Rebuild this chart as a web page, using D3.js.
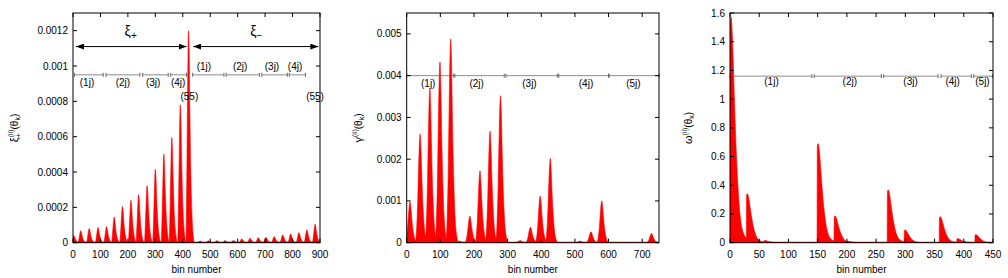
<!DOCTYPE html>
<html>
<head>
<meta charset="utf-8">
<script src="https://cdn.jsdelivr.net/npm/d3@7"></script>
<style>
  body { margin: 0; background: #fff; }
  svg text { font-family: "Liberation Sans", Arial, sans-serif; fill: #000; }
</style>
</head>
<body>
<svg id="chart" width="1008" height="278"></svg>
<script>
// ---- data ----
// xi panel: peak bin / peak height, xi+ then xi-
const xiPlusBins = [3, 28, 59, 91, 122, 150, 180, 211, 239, 270, 300, 331, 360, 391, 421];
const xiPlusPeaks = [0.00004, 0.000068, 0.00008, 0.000086, 0.000091, 0.000146, 0.000205, 0.00024, 0.000272, 0.000323, 0.000416, 0.000501, 0.000595, 0.00078, 0.0012];
const xiMinusBins = [463, 493, 524, 554, 584, 615, 645, 675, 703, 733, 764, 793, 823, 852, 882];
const xiMinusPeaks = [0.0000095, 0.000011, 0.000011, 0.000012, 0.000013, 0.000021, 0.000025, 0.000028, 0.00003, 0.000034, 0.000044, 0.000049, 0.000057, 0.000072, 0.000104];
// peak outline: [bin offset, fraction of peak height]
const xiProfile = [[-9, 0], [-6, 0.35], [-3, 0.75], [-1, 0.97], [0, 1], [2, 0.92], [5, 0.6], [8, 0.35], [12, 0.15], [16, 0.05], [20, 0]];

// gamma panel
const gammaBins = [10, 40, 69, 99, 131, 157, 188, 218, 248, 279, 337, 368, 397, 427, 515, 548, 580, 728];
const gammaPeaks = [0.00098, 0.0026, 0.00369, 0.00433, 0.00488, 0.00004, 0.00064, 0.00172, 0.00267, 0.00352, 0.00005, 0.00037, 0.00112, 0.00202, 0.00004, 0.00026, 0.001, 0.00022];
const gammaProfile = [[-15, 0], [-11, 0.1], [-7, 0.4], [-4, 0.75], [-1, 0.98], [0, 1], [2, 0.9], [5, 0.6], [9, 0.3], [13, 0.12], [18, 0.03], [22, 0]];

// omega panel
const omegaBins = [0, 28, 58, 149, 178, 199, 269, 298, 358, 388, 419];
const omegaPeaks = [1.57, 0.34, 0.015, 0.69, 0.186, 0.01, 0.367, 0.088, 0.181, 0.028, 0.056];
const omegaProfile = [[0, 0], [0.4, 0.98], [2, 1], [4, 0.92], [7, 0.68], [10, 0.45], [13, 0.28], [17, 0.13], [22, 0.05], [30, 0.015], [40, 0]];

// axis ticks
const xiXTicks = [0, 100, 200, 300, 400, 500, 600, 700, 800, 900];
const xiYTicks = [0, 0.0002, 0.0004, 0.0006, 0.0008, 0.001, 0.0012];
const gammaXTicks = [0, 100, 200, 300, 400, 500, 600, 700];
const gammaYTicks = [0, 0.001, 0.002, 0.003, 0.004, 0.005];
const omegaXTicks = [0, 50, 100, 150, 200, 250, 300, 350, 400, 450];
const omegaYTicks = [0, 0.2, 0.4, 0.6, 0.8, 1, 1.2, 1.4, 1.6];

// range annotations: [from bin, to bin], label, label bin
const xiSegments = [[5, 110], [120, 244], [254, 347], [356, 414], [436, 550], [558, 679], [688, 781], [788, 847]];
const xiSegLabels = ["(1j)", "(2j)", "(3j)", "(4j)", "(1j)", "(2j)", "(3j)", "(4j)"];
const xiSegLabelBins = [51, 182, 292, 383, 477, 609, 725, 809];
const xiSegLabelValues = [0.000906, 0.000906, 0.000906, 0.000906, 0.001, 0.001, 0.001, 0.001];
const xiSingleLabels = [[424, 0.000826], [882, 0.000826]];
const xiArrows = [[11, 414], [438, 894]];
const xiArrowNames = ["+", "\u2212"];
const xiArrowNameBins = [188, 646];

const gammaSegments = [[0, 140], [143, 290], [295, 448], [452, 600], [602, 750]];
const gammaSegLabels = ["(1j)", "(2j)", "(3j)", "(4j)", "(5j)"];
const gammaSegLabelBins = [64, 208, 365, 533, 674];

const omegaSegments = [[0, 140], [144, 259], [263, 356], [361, 413], [417, 449]];
const omegaSegLabels = ["(1j)", "(2j)", "(3j)", "(4j)", "(5j)"];
const omegaSegLabelBins = [71, 205, 309, 381, 432];

const svg = d3.select("#chart");
const plotTop = 13, plotBottom = 242.7;

function fmt(d) {
    return d === 0 ? "0" : String(+d.toFixed(4));
}

function drawPanel(p) {
    const x = d3.scaleLinear().domain(p.xDomain).range([p.left, p.right]);
    const y = d3.scaleLinear().domain(p.yDomain).range([plotBottom, plotTop]);
    const g = svg.append("g");

    g.append("clipPath").attr("id", "clip" + p.id)
        .append("rect")
        .attr("x", p.left).attr("y", plotTop)
        .attr("width", p.right - p.left).attr("height", plotBottom - plotTop);

    // grey range lines with end bars
    p.segments.forEach(function(s) {
        const yy = y(p.segValue);
        g.append("line")
            .attr("x1", x(s[0])).attr("x2", x(s[1]))
            .attr("y1", yy).attr("y2", yy)
            .attr("stroke", "#8c8c8c").attr("stroke-width", 1);
        [s[0], s[1]].forEach(function(b) {
            g.append("line")
                .attr("x1", x(b)).attr("x2", x(b))
                .attr("y1", yy - 2).attr("y2", yy + 2)
                .attr("stroke", "#666").attr("stroke-width", 1);
        });
    });
    p.segLabels.forEach(function(t, i) {
        g.append("text")
            .attr("x", x(p.segLabelBins[i]))
            .attr("y", y(p.segLabelValues ? p.segLabelValues[i] : p.labelValue))
            .attr("dy", "0.35em")
            .attr("text-anchor", "middle")
            .style("font-size", "10px")
            .text(t);
    });

    // filled peaks
    const area = d3.area()
        .curve(d3.curveMonotoneX)
        .x(function(d) { return x(d[0]); })
        .y0(y(0))
        .y1(function(d) { return y(d[1]); });

    const fills = g.append("g").attr("clip-path", "url(#clip" + p.id + ")");
    p.bins.forEach(function(b, i) {
        const pts = p.profile.map(function(q) { return [b + q[0], q[1] * p.peaks[i]]; });
        fills.append("path")
            .attr("d", area(pts))
            .attr("fill", "#ff0000")
            .attr("stroke", "#ff0000")
            .attr("stroke-width", 0.6);
    });

    // frame
    g.append("rect")
        .attr("x", p.left).attr("y", plotTop)
        .attr("width", p.right - p.left).attr("height", plotBottom - plotTop)
        .attr("fill", "none").attr("stroke", "#000").attr("stroke-width", 1);

    // baseline of the curve
    fills.append("line")
        .attr("x1", p.left).attr("x2", p.right)
        .attr("y1", y(0)).attr("y2", y(0))
        .attr("stroke", p.baseColor).attr("stroke-width", 2);

    // ticks, mirrored
    p.xTicks.forEach(function(t) {
        g.append("line").attr("x1", x(t)).attr("x2", x(t))
            .attr("y1", plotBottom).attr("y2", plotBottom - 4).attr("stroke", "#000");
        g.append("line").attr("x1", x(t)).attr("x2", x(t))
            .attr("y1", plotTop).attr("y2", plotTop + 4).attr("stroke", "#000");
        g.append("text")
            .attr("x", x(t)).attr("y", plotBottom + 15)
            .attr("text-anchor", "middle")
            .style("font-size", "10px")
            .text(fmt(t));
    });
    p.yTicks.forEach(function(t) {
        g.append("line").attr("x1", p.left).attr("x2", p.left + 4)
            .attr("y1", y(t)).attr("y2", y(t)).attr("stroke", "#000");
        g.append("line").attr("x1", p.right).attr("x2", p.right - 4)
            .attr("y1", y(t)).attr("y2", y(t)).attr("stroke", "#000");
        g.append("text")
            .attr("x", p.left - 5).attr("y", y(t))
            .attr("dy", "0.35em")
            .attr("text-anchor", "end")
            .style("font-size", "10px")
            .text(fmt(t));
    });

    g.append("text")
        .attr("x", (p.left + p.right) / 2).attr("y", 273)
        .attr("text-anchor", "middle")
        .style("font-size", "10px")
        .text("bin number");

    // rotated y label: sym_sub^(ii)(theta_k)
    const lab = g.append("text")
        .attr("transform", `translate(${p.labelX},128) rotate(-90)`)
        .attr("text-anchor", "middle")
        .style("font-size", "10px");
    lab.append("tspan").style("font-size", "11px").text(p.symbol);
    if (p.sub) {
        lab.append("tspan").attr("dy", 3).style("font-size", "7px").text(p.sub);
        lab.append("tspan").attr("dx", -4).attr("dy", -8).style("font-size", "7px").text("(ii)");
        lab.append("tspan").attr("dy", 5).text("(θ");
    } else {
        lab.append("tspan").attr("dy", -5).style("font-size", "7px").text("(ii)");
        lab.append("tspan").attr("dy", 5).text("(θ");
    }
    lab.append("tspan").attr("dy", 2).style("font-size", "7px").text("k");
    lab.append("tspan").attr("dy", -2).text(")");

    return { x: x, y: y, g: g };
}

// panel 1
const p1 = drawPanel({
    id: 1, left: 73, right: 320, xDomain: [0, 900], yDomain: [0, 0.0013],
    bins: xiPlusBins.concat(xiMinusBins), peaks: xiPlusPeaks.concat(xiMinusPeaks), profile: xiProfile,
    xTicks: xiXTicks, yTicks: xiYTicks,
    segments: xiSegments, segValue: 0.00095, segLabels: xiSegLabels,
    segLabelBins: xiSegLabelBins, segLabelValues: xiSegLabelValues,
    baseColor: "#8a0000", symbol: "ξ", sub: "+", labelX: 18
});

xiSingleLabels.forEach(function(d) {
    p1.g.append("text")
        .attr("x", p1.x(d[0])).attr("y", p1.y(d[1]))
        .attr("dy", "0.35em").attr("text-anchor", "middle")
        .style("font-size", "10px").text("(55)");
});

svg.append("defs").append("marker")
    .attr("id", "head").attr("viewBox", "0 0 8 6")
    .attr("refX", 8).attr("refY", 3)
    .attr("markerWidth", 8).attr("markerHeight", 6)
    .attr("markerUnits", "userSpaceOnUse")
    .attr("orient", "auto-start-reverse")
    .append("path").attr("d", "M0,0L8,3L0,6Z").attr("fill", "#000");

xiArrows.forEach(function(a, i) {
    const yy = p1.y(0.00111);
    p1.g.append("line")
        .attr("x1", p1.x(a[0])).attr("x2", p1.x(a[1]))
        .attr("y1", yy).attr("y2", yy)
        .attr("stroke", "#000").attr("stroke-width", 1)
        .attr("marker-start", "url(#head)")
        .attr("marker-end", "url(#head)");
    const t = p1.g.append("text")
        .attr("x", p1.x(xiArrowNameBins[i])).attr("y", p1.y(0.001172))
        .style("font-size", "14px");
    t.append("tspan").text("ξ");
    t.append("tspan").attr("dy", 3).style("font-size", "10px").text(xiArrowNames[i]);
});

// panel 2
drawPanel({
    id: 2, left: 406.7, right: 659, xDomain: [0, 750], yDomain: [0, 0.0055],
    bins: gammaBins, peaks: gammaPeaks, profile: gammaProfile,
    xTicks: gammaXTicks, yTicks: gammaYTicks,
    segments: gammaSegments, segValue: 0.004, segLabels: gammaSegLabels,
    segLabelBins: gammaSegLabelBins, labelValue: 0.00382,
    baseColor: "#ff0000", symbol: "γ", sub: null, labelX: 362
});

// panel 3
drawPanel({
    id: 3, left: 730, right: 993, xDomain: [0, 450], yDomain: [0, 1.6],
    bins: omegaBins, peaks: omegaPeaks, profile: omegaProfile,
    xTicks: omegaXTicks, yTicks: omegaYTicks,
    segments: omegaSegments, segValue: 1.16, segLabels: omegaSegLabels,
    segLabelBins: omegaSegLabelBins, labelValue: 1.12,
    baseColor: "#ff0000", symbol: "ω", sub: null, labelX: 692
});
</script>
</body>
</html>
